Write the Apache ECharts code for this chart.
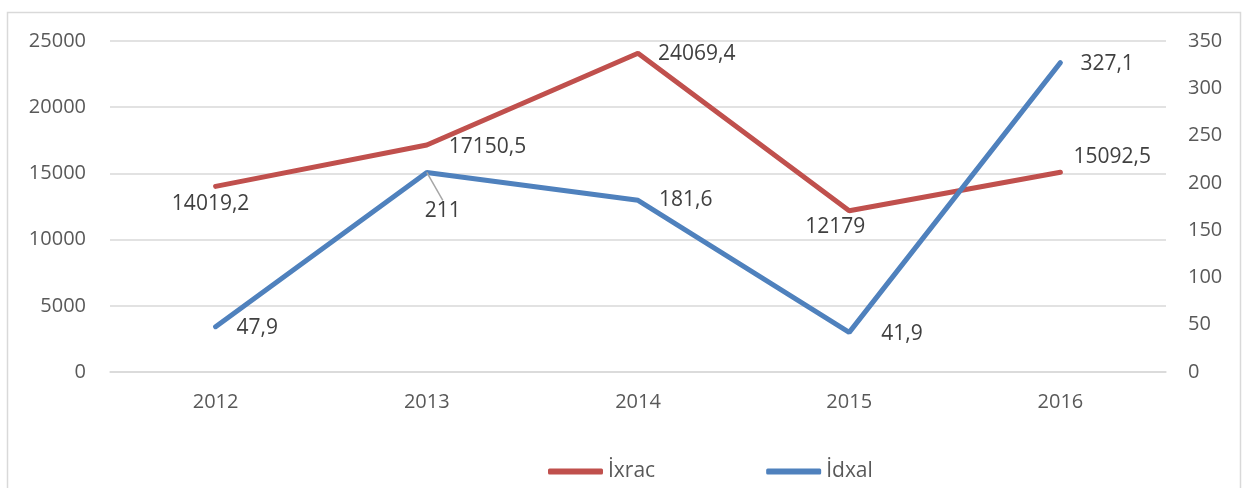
<!DOCTYPE html>
<html><head><meta charset="utf-8">
<script src="https://cdn.jsdelivr.net/npm/echarts@6/dist/echarts.min.js"></script>
<style>html,body{margin:0;padding:0;background:#fff}#c{width:1245px;height:488px}</style>
</head><body><div id="c"></div>
<script>
const categories = ['2012', '2013', '2014', '2015', '2016'];
const ixrac = [14019.2, 17150.5, 24069.4, 12179, 15092.5];
const idxal = [47.9, 211, 181.6, 41.9, 327.1];
const seriesNames = ['İxrac', 'İdxal'];

const fmt = v => String(v).replace('.', ',');
const FONT = 'Open Sans';
const labelStyle = {show: true, color: '#404040', fontSize: 21, fontFamily: FONT, formatter: p => fmt(p.value)};

const redLabels = [
  {position: 'bottom', offset: [-5, 2]},
  {position: 'right', offset: [17, 2]},
  {position: 'right', offset: [15, 1]},
  {position: 'bottom', offset: [-14, 1]},
  {position: 'right', offset: [8, -15]}
];
const blueLabels = [
  {position: 'right'}, {position: 'bottom'}, {position: 'right'}, {position: 'right'}, {position: 'right'}
];
const blueShift = [[16, 1], [16, 23], [16, 0], [27, 2], [15, 1]];

const chart = echarts.init(document.getElementById('c'));
chart.setOption({
  animation: false,
  backgroundColor: '#fff',
  graphic: [{type: 'rect', shape: {x: 7.5, y: 12.5, width: 1233, height: 500}, style: {fill: 'none', stroke: '#d9d9d9', lineWidth: 1.5}}],
  grid: {left: 110, right: 79, top: 41, bottom: 116},
  legend: {
    left: 543, top: 456, itemWidth: 55, itemHeight: 6, itemGap: 111,
    icon: 'roundRect',
    textStyle: {color: '#595959', fontSize: 21, fontFamily: FONT},
    data: seriesNames
  },
  xAxis: {
    type: 'category', data: categories, boundaryGap: true,
    axisLine: {lineStyle: {color: '#d9d9d9', width: 1.5}}, axisTick: {show: false},
    axisLabel: {color: '#595959', fontSize: 20, fontFamily: FONT, margin: 20}
  },
  yAxis: [
    {type: 'value', min: 0, max: 25000, interval: 5000,
     splitLine: {lineStyle: {color: '#d9d9d9', width: 1.5}},
     axisLine: {show: false}, axisTick: {show: false},
     axisLabel: {color: '#595959', fontSize: 20, fontFamily: FONT, margin: 24, formatter: v => String(v)}},
    {type: 'value', min: 0, max: 350, interval: 50,
     splitLine: {show: false}, axisLine: {show: false}, axisTick: {show: false},
     axisLabel: {color: '#595959', fontSize: 20, fontFamily: FONT, margin: 22, align: 'left', formatter: v => String(v)}}
  ],
  series: [
    {name: seriesNames[0], type: 'line', yAxisIndex: 0, symbol: 'circle', symbolSize: 0.01, showSymbol: true,
     lineStyle: {color: '#C0504D', width: 5, cap: 'round'}, itemStyle: {color: '#C0504D'},
     label: labelStyle,
     data: ixrac.map((v, i) => ({value: v, label: redLabels[i]}))},
    {name: seriesNames[1], type: 'line', yAxisIndex: 1, symbol: 'circle', symbolSize: 0.01, showSymbol: true,
     lineStyle: {color: '#4F81BD', width: 5, cap: 'round'}, itemStyle: {color: '#4F81BD'},
     label: labelStyle,
     labelLine: {show: false, lineStyle: {color: '#a6a6a6', width: 1.5}},
     labelLayout: p => ({dx: blueShift[p.dataIndex][0], dy: blueShift[p.dataIndex][1]}),
     data: idxal.map((v, i) => ({value: v, label: blueLabels[i], labelLine: {show: i === 1}}))}
  ]
});
</script></body></html>
